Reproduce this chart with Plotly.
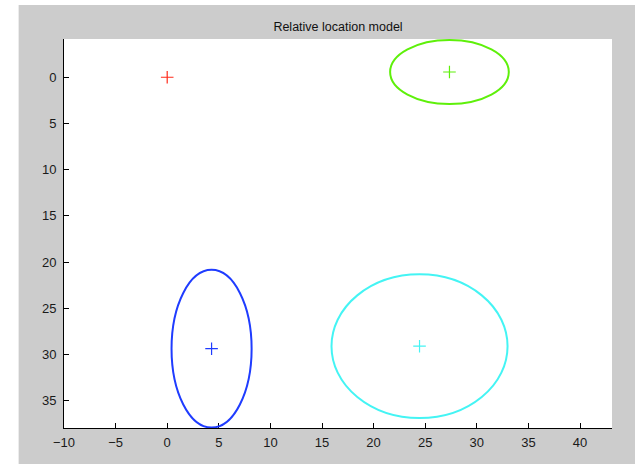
import plotly.graph_objects as go

# Part locations (x, y) and spread of each part as ellipse semi-axes
part_x = [0.0, 27.35, 4.3, 24.45]
part_y = [0.0, -0.57, 29.37, 29.1]
semi_x = [0.0, 5.75, 3.88, 8.53]
semi_y = [0.0, 3.46, 8.53, 7.78]
part_colors = ["#ff2a1a", "#5ef00a", "#1f3cff", "#44f4f4"]

x_ticks = [-10, -5, 0, 5, 10, 15, 20, 25, 30, 35, 40]
y_ticks = [0, 5, 10, 15, 20, 25, 30, 35]

fig = go.Figure()

for px, py, c in zip(part_x, part_y, part_colors):
    fig.add_trace(go.Scatter(
        x=[px], y=[py], mode="markers",
        marker=dict(symbol="cross-thin", size=9, line=dict(color=c, width=1.2)),
        showlegend=False, hoverinfo="skip",
    ))

shapes = []
for px, py, ax, ay, c in zip(part_x, part_y, semi_x, semi_y, part_colors):
    if ax > 0 and ay > 0:
        shapes.append(dict(
            type="circle", xref="x", yref="y",
            x0=px - ax, x1=px + ax, y0=py - ay, y1=py + ay,
            line=dict(color=c, width=2),
        ))

# white strips around the gray figure frame
shapes.append(dict(type="rect", xref="paper", yref="paper",
                   x0=-0.2, x1=-0.0828, y0=-0.2, y1=1.2,
                   fillcolor="white", line=dict(width=0), layer="above"))
shapes.append(dict(type="rect", xref="paper", yref="paper",
                   x0=-0.2, x1=1.2, y0=1.0873, y1=1.2,
                   fillcolor="white", line=dict(width=0), layer="above"))

axis_font = dict(family="Liberation Sans, Arial, sans-serif", size=13, color="#1a1a1a")

fig.update_layout(
    width=635, height=464,
    margin=dict(l=64.3, r=23.3, t=39, b=35.7),
    paper_bgcolor="#cccccc",
    plot_bgcolor="white",
    shapes=shapes,
    title=dict(text="Relative location model", x=0.5, xref="paper",
               y=1 - 26.5 / 464, yanchor="middle",
               font=dict(family="Liberation Sans, Arial, sans-serif", size=12.5, color="#111111")),
    xaxis=dict(range=[-10, 43.1], tickvals=x_ticks,
               ticktext=[f"\u2212{abs(v)}" if v < 0 else str(v) for v in x_ticks],
               ticks="inside", ticklen=5, tickcolor="black", showline=True, linecolor="black",
               linewidth=1, showgrid=False, zeroline=False, tickfont=axis_font,
               ticklabelstandoff=2),
    yaxis=dict(range=[37.95, -4.14], tickvals=y_ticks, ticks="inside", ticklen=5,
               tickcolor="black", showline=True, linecolor="black", linewidth=1,
               showgrid=False, zeroline=False, tickfont=axis_font,
               ticklabelstandoff=4),
)

fig.write_html("out.html")
